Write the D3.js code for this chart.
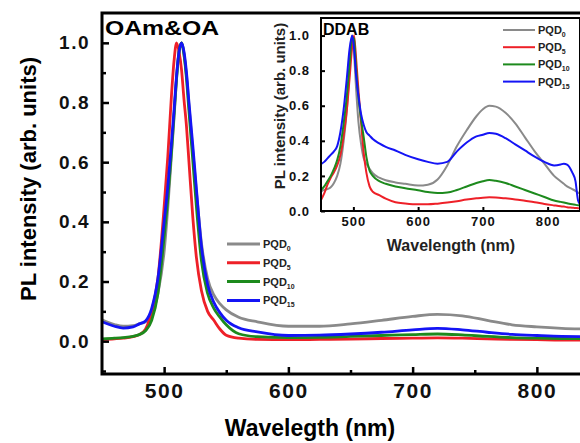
<!DOCTYPE html>
<html lang="en">
<head>
<meta charset="UTF-8">
<title>PL spectra - OAm&amp;OA vs DDAB</title>
<style>
  body { margin: 0; background: #fff; overflow: hidden; }
  svg { display: block; font-family: "Liberation Sans", Arial, sans-serif; font-weight: bold; }
  .axis path { display: none; }
  .axis line { stroke: #000; }
</style>
</head>
<body>
<div id="chart"></div>
<script src="https://d3js.org/d3.v7.min.js"></script>
<script>
// ---- main panel data (OAm&OA) ----
const wlMain = [450, 460, 467, 475, 480, 485, 490, 495, 500, 503, 506, 508, 510, 512, 514, 516, 518, 520, 523, 526,
                530, 535, 540, 545, 550, 560, 575, 600, 625, 650, 675, 700, 720, 740, 760, 780, 800, 820, 850];
const pqd0Main = [0.072, 0.056, 0.05, 0.052, 0.058, 0.065, 0.09, 0.16, 0.30, 0.45, 0.63, 0.75, 0.88, 0.97, 1.0, 0.96, 0.89, 0.79, 0.64, 0.50,
                  0.33, 0.21, 0.155, 0.125, 0.105, 0.08, 0.065, 0.05, 0.05, 0.058, 0.07, 0.083, 0.09, 0.085, 0.07, 0.055, 0.048, 0.043, 0.04];
const pqd5Main = [0.006, 0.008, 0.01, 0.015, 0.022, 0.04, 0.10, 0.21, 0.45, 0.62, 0.83, 0.94, 1.0, 0.97, 0.91, 0.81, 0.72, 0.60, 0.42, 0.28,
                  0.17, 0.10, 0.07, 0.04, 0.02, 0.01, 0.006, 0.005, 0.006, 0.007, 0.009, 0.01, 0.011, 0.01, 0.008, 0.006, 0.005, 0.004, 0.004];
const pqd10Main = [0.008, 0.01, 0.012, 0.016, 0.022, 0.035, 0.07, 0.16, 0.35, 0.48, 0.64, 0.76, 0.88, 0.97, 1.0, 0.96, 0.88, 0.77, 0.61, 0.45,
                   0.27, 0.16, 0.11, 0.08, 0.055, 0.025, 0.015, 0.012, 0.013, 0.016, 0.019, 0.022, 0.024, 0.021, 0.016, 0.012, 0.01, 0.009, 0.008];
const pqd15Main = [0.065, 0.05, 0.044, 0.048, 0.058, 0.068, 0.11, 0.21, 0.40, 0.52, 0.67, 0.775, 0.89, 0.97, 1.0, 0.97, 0.90, 0.80, 0.66, 0.51,
                   0.32, 0.19, 0.13, 0.095, 0.07, 0.045, 0.031, 0.019, 0.02, 0.024, 0.03, 0.038, 0.043, 0.038, 0.03, 0.023, 0.019, 0.016, 0.015];

// ---- inset data (DDAB) ----
const wlInset = [450, 455, 460, 465, 470, 475, 480, 485, 490, 494, 498, 501, 504, 508, 512, 516, 520, 525, 530, 540,
                 550, 565, 580, 600, 615, 630, 645, 660, 675, 690, 700, 710, 720, 735, 750, 765, 780, 795, 810, 820,
                 825, 830, 838, 843, 847, 850];
const pqd0Inset = [0.11, 0.12, 0.125, 0.135, 0.16, 0.2, 0.27, 0.4, 0.58, 0.8, 1.0, 0.9, 0.71, 0.5, 0.38, 0.3, 0.27, 0.24, 0.215, 0.19,
                   0.175, 0.163, 0.155, 0.145, 0.15, 0.18, 0.26, 0.37, 0.46, 0.54, 0.58, 0.6, 0.595, 0.56, 0.5, 0.42, 0.34, 0.27, 0.2, 0.17,
                   0.155, 0.14, 0.125, 0.115, 0.105, 0.1];
const pqd5Inset = [0.0625, 0.1, 0.15, 0.19, 0.22, 0.26, 0.32, 0.43, 0.58, 0.75, 0.93, 1.0, 0.88, 0.68, 0.5, 0.33, 0.22, 0.14, 0.11, 0.09,
                   0.07, 0.05, 0.043, 0.038, 0.038, 0.042, 0.048, 0.056, 0.065, 0.072, 0.076, 0.078, 0.077, 0.072, 0.066, 0.058, 0.05, 0.04, 0.032, 0.027,
                   0.025, 0.022, 0.019, 0.017, 0.016, 0.015];
const pqd10Inset = [0.12, 0.14, 0.17, 0.2, 0.24, 0.29, 0.37, 0.5, 0.66, 0.83, 0.99, 0.98, 0.82, 0.64, 0.52, 0.42, 0.31, 0.23, 0.2, 0.17,
                    0.155, 0.14, 0.13, 0.118, 0.108, 0.102, 0.105, 0.12, 0.14, 0.16, 0.17, 0.176, 0.172, 0.16, 0.14, 0.12, 0.1, 0.08, 0.06, 0.052,
                    0.048, 0.044, 0.038, 0.035, 0.033, 0.032];
const pqd15Inset = [0.267, 0.28, 0.3, 0.32, 0.34, 0.37, 0.45, 0.58, 0.76, 0.92, 1.0, 0.93, 0.78, 0.65, 0.55, 0.49, 0.45, 0.43, 0.41, 0.385,
                    0.365, 0.345, 0.32, 0.295, 0.28, 0.27, 0.28, 0.34, 0.39, 0.425, 0.435, 0.445, 0.44, 0.415, 0.38, 0.345, 0.31, 0.28, 0.26, 0.265,
                    0.27, 0.265, 0.22, 0.17, 0.06, 0.04];

const labels = ["0", "5", "10", "15"];
const colors = ["#8a8a8a", "#ee2028", "#1d8a1d", "#1414f5"];

const mainTicksX = [500, 600, 700, 800];
const mainTicksY = [0.0, 0.2, 0.4, 0.6, 0.8, 1.0];
const insetTicksX = [500, 600, 700, 800];
const insetTicksY = [0.0, 0.2, 0.4, 0.6, 0.8, 1.0];

const W = 580, H = 443;
const svg = d3.select("#chart").append("svg")
    .attr("width", W).attr("height", H);

// scales
const xMain = d3.scaleLinear().domain([450, 850]).range([102, 599]);
const yMain = d3.scaleLinear().domain([-0.11, 1.1]).range([374, 13]);
const xIn = d3.scaleLinear().domain([450, 850]).range([321, 580]);
const yIn = d3.scaleLinear().domain([0, 1.1]).range([211, 18]);

const mainSeries = [pqd0Main, pqd5Main, pqd10Main, pqd15Main];
const insetSeries = [pqd0Inset, pqd5Inset, pqd10Inset, pqd15Inset];

// ---- main panel ----
const lineMain = d3.line().x(d => xMain(d[0])).y(d => yMain(d[1])).curve(d3.curveMonotoneX);
mainSeries.forEach((vals, i) => {
    svg.append("path")
        .datum(wlMain.map((w, j) => [w, vals[j]]))
        .attr("d", lineMain)
        .attr("fill", "none")
        .attr("stroke", colors[i])
        .attr("stroke-width", 2.8);
});

// main axes (ticks point inward)
svg.append("g").attr("class", "axis")
    .attr("transform", "translate(0,374)")
    .call(d3.axisBottom(xMain).tickValues(mainTicksX).tickSizeInner(-7).tickSizeOuter(0).tickPadding(9))
    .call(g => g.selectAll("line").attr("stroke-width", 2.5))
    .call(g => g.selectAll("text").attr("font-size", 21).attr("letter-spacing", 1.5).attr("fill", "#111"));
svg.append("g").attr("class", "axis")
    .attr("transform", "translate(0,374)")
    .call(d3.axisBottom(xMain).tickValues([550, 650, 750]).tickSizeInner(-4).tickSizeOuter(0).tickFormat(""))
    .call(g => g.selectAll("line").attr("stroke-width", 2.5));

svg.append("g").attr("class", "axis")
    .attr("transform", "translate(102,0)")
    .call(d3.axisLeft(yMain).tickValues(mainTicksY).tickSizeInner(-7).tickSizeOuter(0).tickPadding(12).tickFormat(d3.format(".1f")))
    .call(g => g.selectAll("line").attr("stroke-width", 2.5))
    .call(g => g.selectAll("text").attr("font-size", 19).attr("letter-spacing", 1.5).attr("fill", "#111"));
svg.append("g").attr("class", "axis")
    .attr("transform", "translate(102,0)")
    .call(d3.axisLeft(yMain).tickValues([-0.1, 0.1, 0.3, 0.5, 0.7, 0.9]).tickSizeInner(-4).tickSizeOuter(0).tickFormat(""))
    .call(g => g.selectAll("line").attr("stroke-width", 2.5));

// main frame
svg.append("rect")
    .attr("x", xMain.range()[0]).attr("y", yMain.range()[1])
    .attr("width", xMain.range()[1] - xMain.range()[0])
    .attr("height", yMain.range()[0] - yMain.range()[1])
    .attr("fill", "none").attr("stroke", "#000").attr("stroke-width", 3);

svg.append("text")
    .attr("x", 105).attr("y", 35)
    .attr("font-size", 20)
    .attr("textLength", 114).attr("lengthAdjust", "spacingAndGlyphs")
    .text("OAm&OA");

svg.append("text")
    .attr("transform", "translate(36,179) rotate(-90)")
    .attr("text-anchor", "middle")
    .attr("font-size", 22)
    .text("PL intensity (arb. units)");

svg.append("text")
    .attr("x", 310).attr("y", 436)
    .attr("text-anchor", "middle")
    .attr("font-size", 23)
    .text("Wavelegth (nm)");

// main legend
const legMain = svg.append("g").attr("transform", "translate(227,244)");
labels.forEach((lab, i) => {
    const row = legMain.append("g").attr("transform", `translate(0,${i * 18.8})`);
    row.append("line").attr("x1", 0).attr("x2", 33).attr("y1", 0).attr("y2", 0)
        .attr("stroke", colors[i]).attr("stroke-width", 3);
    const t = row.append("text").attr("x", 36).attr("y", 4).attr("font-size", 11).attr("fill", "#222");
    t.append("tspan").text("PQD");
    t.append("tspan").attr("dy", 3).attr("font-size", 7).text(lab);
});

// ---- inset ----
svg.append("rect")
    .attr("x", xIn.range()[0]).attr("y", yIn.range()[1])
    .attr("width", xIn.range()[1] - xIn.range()[0])
    .attr("height", yIn.range()[0] - yIn.range()[1])
    .attr("fill", "#fff");

const lineIn = d3.line().x(d => xIn(d[0])).y(d => yIn(d[1])).curve(d3.curveMonotoneX);
insetSeries.forEach((vals, i) => {
    svg.append("path")
        .datum(wlInset.map((w, j) => [w, vals[j]]))
        .attr("d", lineIn)
        .attr("fill", "none")
        .attr("stroke", colors[i])
        .attr("stroke-width", 2);
});

svg.append("g").attr("class", "axis")
    .attr("transform", "translate(0,211)")
    .call(d3.axisBottom(xIn).tickValues(insetTicksX).tickSizeInner(-4).tickSizeOuter(0).tickPadding(6))
    .call(g => g.selectAll("line").attr("stroke-width", 2))
    .call(g => g.selectAll("text").attr("font-size", 13).attr("letter-spacing", 1).attr("fill", "#111"));
svg.append("g").attr("class", "axis")
    .attr("transform", "translate(321,0)")
    .call(d3.axisLeft(yIn).tickValues(insetTicksY).tickSizeInner(-4).tickSizeOuter(0).tickPadding(11).tickFormat(d3.format(".1f")))
    .call(g => g.selectAll("line").attr("stroke-width", 2))
    .call(g => g.selectAll("text").attr("font-size", 13).attr("letter-spacing", 1).attr("fill", "#111"));

svg.append("rect")
    .attr("x", xIn.range()[0]).attr("y", yIn.range()[1])
    .attr("width", xIn.range()[1] - xIn.range()[0])
    .attr("height", yIn.range()[0] - yIn.range()[1])
    .attr("fill", "none").attr("stroke", "#000").attr("stroke-width", 2);

svg.append("text")
    .attr("x", 323).attr("y", 35)
    .attr("font-size", 16)
    .text("DDAB");

svg.append("text")
    .attr("transform", "translate(285,106) rotate(-90)")
    .attr("text-anchor", "middle")
    .attr("font-size", 15)
    .attr("fill", "#222")
    .text("PL intensity (arb. units)");

svg.append("text")
    .attr("x", 451).attr("y", 251)
    .attr("text-anchor", "middle")
    .attr("font-size", 16)
    .attr("fill", "#222")
    .text("Wavelength (nm)");

const legIn = svg.append("g").attr("transform", "translate(503,30)");
labels.forEach((lab, i) => {
    const row = legIn.append("g").attr("transform", `translate(0,${i * 17.2})`);
    row.append("line").attr("x1", 0).attr("x2", 32).attr("y1", 0).attr("y2", 0)
        .attr("stroke", colors[i]).attr("stroke-width", 2);
    const t = row.append("text").attr("x", 35).attr("y", 4).attr("font-size", 11).attr("fill", "#222");
    t.append("tspan").text("PQD");
    t.append("tspan").attr("dy", 3).attr("font-size", 7).text(lab);
});
</script>
</body>
</html>
